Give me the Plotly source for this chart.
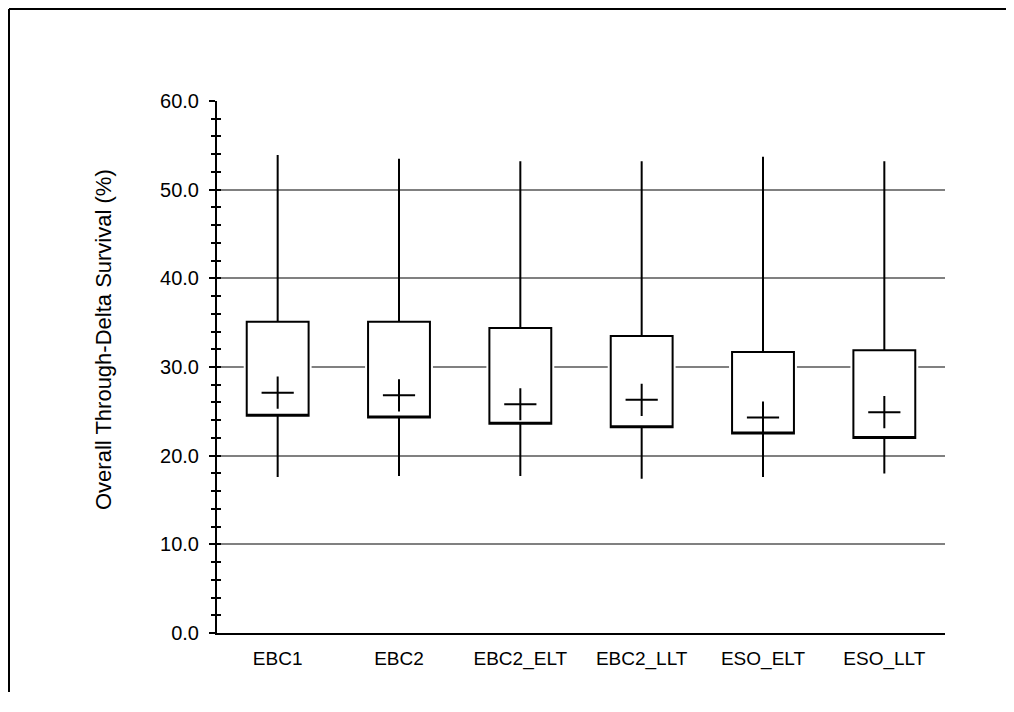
import plotly.graph_objects as go

categories = ["EBC1", "EBC2", "EBC2_ELT", "EBC2_LLT", "ESO_ELT", "ESO_LLT"]
whisker_low = [17.6, 17.7, 17.7, 17.4, 17.6, 18.0]
q1_values = [24.5, 24.3, 23.6, 23.2, 22.5, 22.0]
q3_values = [35.1, 35.1, 34.4, 33.5, 31.7, 31.9]
whisker_high = [53.9, 53.5, 53.2, 53.2, 53.7, 53.2]
mean_values = [27.1, 26.8, 25.8, 26.3, 24.3, 24.9]

y_title = "Overall Through-Delta Survival (%)"
font_family = "Liberation Sans, Arial, sans-serif"

# page body has an 8px margin; keep the figure well inside the window to avoid scrollbars
OFF = 8
PL, PR, PT, PB = 217 - OFF, 945 - OFF, 101 - OFF, 633 - OFF
W, H = 1014 - 2 * OFF, 712 - 2 * OFF - 12
PW, PH = PR - PL, PB - PT


def px_x(page_x):
    return (page_x - OFF - PL) / PW


def px_y(page_y):
    return (PB - (page_y - OFF)) / PH


fig = go.Figure()

# white halo around the boxes (gridlines stop short of the box edges)
fig.add_trace(go.Box(
    x=categories,
    q1=q1_values,
    median=q1_values,
    q3=q3_values,
    lowerfence=q1_values,
    upperfence=q3_values,
    width=0.51,
    whiskerwidth=0,
    fillcolor="white",
    line=dict(color="white", width=6),
    boxpoints=False,
    hoverinfo="skip",
    showlegend=False,
))

fig.add_trace(go.Box(
    x=categories,
    q1=q1_values,
    median=q1_values,
    q3=q3_values,
    lowerfence=whisker_low,
    upperfence=whisker_high,
    width=0.51,
    whiskerwidth=0,
    fillcolor="white",
    line=dict(color="black", width=2),
    boxpoints=False,
    hoverinfo="skip",
    showlegend=False,
))

fig.add_trace(go.Scatter(
    x=categories,
    y=mean_values,
    mode="markers",
    marker=dict(symbol="cross-thin", size=23, color="black",
                line=dict(color="black", width=2)),
    showlegend=False,
    hoverinfo="skip",
))

# invisible trace to anchor the overlay axis (inside ticks)
fig.add_trace(go.Scatter(
    x=categories[:1], y=[0], yaxis="y2", mode="markers",
    marker=dict(opacity=0), showlegend=False, hoverinfo="skip",
))

fx0 = px_x(9)
fx1 = px_x(OFF + W)
fy_top = px_y(9)
fy_bot = px_y(OFF + H)

fig.update_layout(
    width=W,
    height=H,
    boxmode="overlay",
    margin=dict(l=PL, r=W - PR, t=PT, b=H - PB),
    paper_bgcolor="white",
    plot_bgcolor="white",
    font=dict(family=font_family, color="black", size=19),
    xaxis=dict(
        type="category",
        range=[-0.5, 5.5],
        showline=True, linecolor="black", linewidth=2,
        showgrid=False, ticks="",
        tickfont=dict(size=19),
        ticklabelstandoff=7,
        zeroline=False,
    ),
    yaxis=dict(
        range=[0, 60],
        dtick=10,
        tickformat=".1f",
        showline=True, linecolor="black", linewidth=2,
        ticks="outside", ticklen=6, tickwidth=2, tickcolor="black",
        minor=dict(dtick=2, ticks="outside", ticklen=4, tickwidth=2, tickcolor="black", showgrid=False),
        showgrid=True, gridcolor="#808080", gridwidth=1.5,
        zeroline=False,
        tickfont=dict(size=20),
        ticklabelstandoff=6,
    ),
    yaxis2=dict(
        range=[0, 60],
        overlaying="y",
        side="left",
        anchor="x",
        dtick=2,
        ticks="inside", ticklen=4, tickwidth=2, tickcolor="black",
        showticklabels=False,
        showgrid=False, zeroline=False, showline=False,
    ),
    annotations=[dict(
        text=y_title, textangle=-90, showarrow=False,
        xref="paper", yref="paper",
        x=px_x(103), y=px_y(340),
        xanchor="center", yanchor="middle",
        font=dict(size=22, family=font_family, color="black"),
    )],
    shapes=[
        dict(type="line", xref="paper", yref="paper",
             x0=fx0, x1=fx0, y0=fy_bot, y1=fy_top,
             line=dict(color="black", width=2), layer="below"),
        dict(type="line", xref="paper", yref="paper",
             x0=fx0, x1=fx1, y0=fy_top, y1=fy_top,
             line=dict(color="black", width=2), layer="below"),
    ],
)

fig.write_html("out.html")
